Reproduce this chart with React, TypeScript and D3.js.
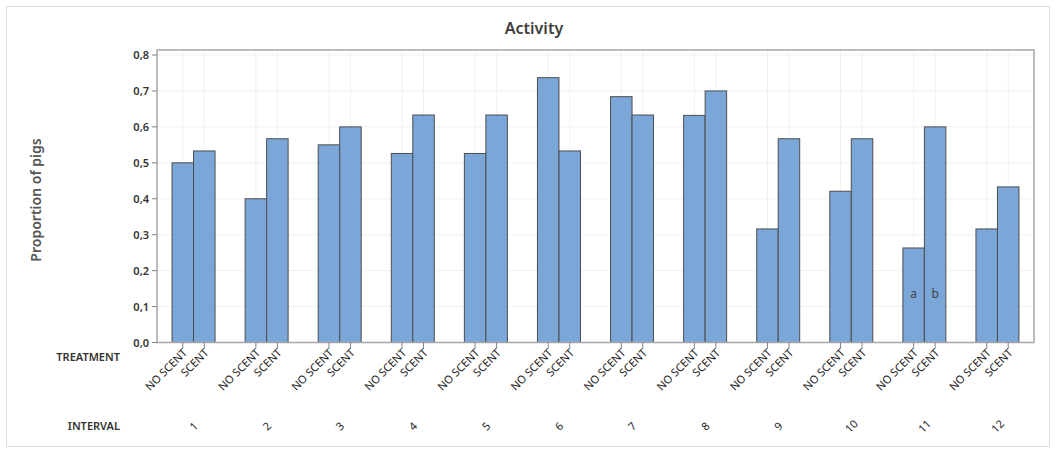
import React from "react";
import * as d3 from "d3";

const intervals = ["1", "2", "3", "4", "5", "6", "7", "8", "9", "10", "11", "12"];
const treatments = ["NO SCENT", "SCENT"];
const noScent = [0.5, 0.4, 0.55, 0.526, 0.526, 0.737, 0.684, 0.632, 0.316, 0.421, 0.263, 0.316];
const scent = [0.533, 0.567, 0.6, 0.633, 0.633, 0.533, 0.633, 0.7, 0.567, 0.567, 0.6, 0.433];
const yTicks = [0, 0.1, 0.2, 0.3, 0.4, 0.5, 0.6, 0.7, 0.8];
const annotations = [
  { interval: "11", treatment: "NO SCENT", text: "a", value: 0.135 },
  { interval: "11", treatment: "SCENT", text: "b", value: 0.135 },
];

const W = 1056;
const H = 452;
const left = 157;
const right = 1034;
const top = 50;
const bottom = 342.5;
const FONT = "'Noto Sans', 'Open Sans', sans-serif";

export default function App() {
  const x = d3.scaleBand<string>().domain(intervals).range([left, right]).paddingInner(0).paddingOuter(0);
  const bw = x.bandwidth();
  const barW = 21.5;
  const inner = d3.scaleBand<string>().domain(treatments).range([bw / 2 - barW, bw / 2 + barW]).padding(0);
  const y = d3.scaleLinear().domain([0, 0.8]).range([bottom, 55]);
  const fmt = (v: number) => d3.format(".1f")(v).replace(".", ",");

  const bars: { key: string; x: number; w: number; v: number }[] = [];
  intervals.forEach((iv, i) => {
    bars.push({ key: iv + "n", x: x(iv)! + inner("NO SCENT")!, w: inner.bandwidth(), v: noScent[i] });
    bars.push({ key: iv + "s", x: x(iv)! + inner("SCENT")!, w: inner.bandwidth(), v: scent[i] });
  });

  return (
    <svg width={W} height={H} style={{ position: "absolute", left: 0, top: 0, background: "#fff" }} fontFamily={FONT}>
      <rect x={6.5} y={6.5} width={1043} height={440} fill="#fff" stroke="#dcdcdc" />
      <text x={534} y={34} textAnchor="middle" fontSize={16} fontWeight={600} fill="#404040">Activity</text>
      <g transform={`translate(41,200) rotate(-90)`}>
        <text textAnchor="middle" fontSize={14} fontWeight={600} fill="#555">Proportion of pigs</text>
      </g>
      {yTicks.map((t) => (
        <line key={"gy" + t} x1={left} x2={right} y1={y(t)} y2={y(t)} stroke="#f0f0f0" />
      ))}
      {intervals.map((iv) =>
        treatments.map((tr) => {
          const cx = x(iv)! + inner(tr)! + inner.bandwidth() / 2;
          return <line key={"gx" + iv + tr} x1={cx} x2={cx} y1={top} y2={bottom} stroke="#f0f0f0" />;
        })
      )}
      {bars.map((b) => (
        <rect key={b.key} x={b.x} y={y(b.v)} width={b.w} height={bottom - y(b.v)} fill="#7ba6d8" stroke="#4d4d4d" strokeWidth={1} />
      ))}
      {annotations.map((a) => (
        <text key={a.text} x={x(a.interval)! + inner(a.treatment)! + inner.bandwidth() / 2} y={y(a.value) + 4} textAnchor="middle" fontSize={12} fill="#444">{a.text}</text>
      ))}
      <rect x={left} y={top} width={right - left} height={bottom - top} fill="none" stroke="#a6a6a6" strokeWidth={1.5} />
      {yTicks.map((t) => (
        <g key={"yt" + t}>
          <line x1={left - 5} x2={left} y1={y(t)} y2={y(t)} stroke="#808080" />
          <text x={left - 8} y={y(t) + 4} textAnchor="end" fontSize={11} fontWeight={600} fill="#333">{fmt(t)}</text>
        </g>
      ))}
      {intervals.map((iv) =>
        treatments.map((tr) => {
          const cx = x(iv)! + inner(tr)! + inner.bandwidth() / 2;
          return (
            <g key={"xt" + iv + tr}>
              <line x1={cx} x2={cx} y1={bottom} y2={bottom + 6} stroke="#808080" />
              <g transform={`translate(${cx + 5},${bottom + 11})`}>
                <g transform="rotate(-45)">
                  <text textAnchor="end" fontSize={11} fill="#222">{tr}</text>
                </g>
              </g>
            </g>
          );
        })
      )}
      {intervals.map((iv) => {
        const cx = x(iv)! + bw / 2;
        return (
          <g key={"iv" + iv} transform={`translate(${cx + 3},${429})`}>
            <g transform="rotate(-45)">
              <text textAnchor="middle" fontSize={11} fill="#222">{iv}</text>
            </g>
          </g>
        );
      })}
      <text x={120} y={361} textAnchor="end" fontSize={11} fontWeight={600} fill="#333">TREATMENT</text>
      <text x={120} y={430} textAnchor="end" fontSize={11} fontWeight={600} fill="#333">INTERVAL</text>
    </svg>
  );
}
